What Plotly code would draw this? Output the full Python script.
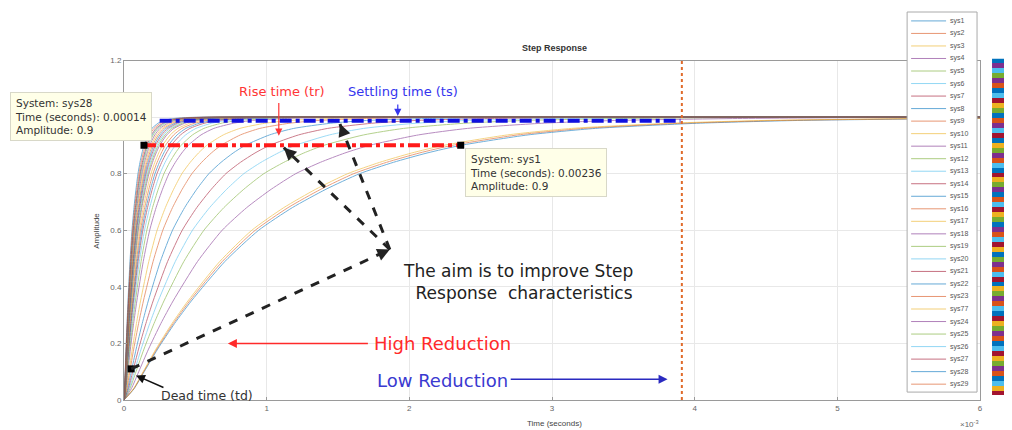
import plotly.graph_objects as go

# ---------------- data ----------------
sys_names = ["sys1", "sys2", "sys3", "sys4", "sys5", "sys6", "sys7", "sys8", "sys9", "sys10",
             "sys11", "sys12", "sys13", "sys14", "sys15", "sys16", "sys17", "sys18", "sys19", "sys20",
             "sys21", "sys22", "sys23", "sys77", "sys24", "sys25", "sys26", "sys27", "sys28", "sys29"]
# time (ms) at which each response reaches amplitude 0.9
t90_ms = [2.36, 2.30, 2.24, 1.72, 1.40, 1.20, 1.02, 0.85, 0.68, 0.58,
          0.45, 0.40, 0.36, 0.33, 0.31, 0.29, 0.27, 0.25, 0.24, 0.23,
          0.22, 0.21, 0.20, 0.19, 0.18, 0.17, 0.165, 0.16, 0.14, 0.15]
# normalised step-response shape read from sys1 (time / t90 -> amplitude)
shape_u = [0, 0.03, 0.06, 0.1, 0.15, 0.2, 0.3, 0.4, 0.5, 0.6, 0.7, 0.8, 0.9, 1.0,
           1.2, 1.4, 1.7, 2.0, 2.5, 3.0, 4.0, 6.0, 10.0, 20.0, 45.0]
shape_amp = [0, 0.04, 0.10, 0.18, 0.27, 0.35, 0.49, 0.60, 0.68, 0.745, 0.80, 0.84, 0.873, 0.90,
             0.937, 0.96, 0.978, 0.988, 0.995, 0.998, 1.0, 1.0, 1.0, 1.0, 1.0]

x_ticks = [0, 1, 2, 3, 4, 5, 6]
y_ticks = [0, 0.2, 0.4, 0.6, 0.8, 1.0, 1.2]

tip_fast = {"sys": "sys28", "t_s": 0.00014, "amp": 0.9}
tip_slow = {"sys": "sys1", "t_s": 0.00236, "amp": 0.9}
settle_amp = 0.987
settle_t_ms = [0.25, 3.9]
marker_line_ms = 3.91
dead_pt = [0.05, 0.11]

strip_idx = [0, 3, 5, 4, 3, 1, 0, 5, 6, 2, 4, 0, 1, 3, 5, 6, 0, 2, 4, 3, 1, 5, 0, 6,
             2, 4, 3, 0, 1, 5, 6, 2, 4, 0, 3, 1, 5, 6, 2, 0, 4, 3, 1, 5, 6, 0, 2, 4,
             3, 1, 5, 0, 6, 2, 4, 3, 1, 0, 5, 6, 2, 4, 3, 1, 0, 5, 2, 6]

mcolors = ["#0072BD", "#D95319", "#EDB120", "#7E2F8E", "#77AC30", "#4DBEEE", "#A2142F"]

# ---------------- geometry helpers (reference page pixels -> paper) ----------------
W, H = 1004, 422
ML, MR, MT, MB = 116, 2, 0, 30
PW, PH = W - ML - MR, H - MT - MB
OX, OY = 8, 8  # page offset of the figure
WIDE = "DejaVu Sans"


def px(x):
    return (x - OX - ML) / PW


def py(y):
    return (OY + H - MB - y) / PH


fig = go.Figure()

for i, (name, t90) in enumerate(zip(sys_names, t90_ms)):
    fig.add_trace(go.Scatter(
        x=[u * t90 for u in shape_u], y=shape_amp, mode="lines", name=name,
        line=dict(color=mcolors[i % 7], width=1, shape="spline", smoothing=0.6),
        opacity=0.55, showlegend=False, hoverinfo="skip"))

# rise-time line (red dash-dot) between the two datatips
fig.add_trace(go.Scatter(x=[tip_fast["t_s"] * 1000, tip_slow["t_s"] * 1000],
                         y=[tip_fast["amp"], tip_slow["amp"]], mode="lines",
                         line=dict(color="#FF1A1A", width=4, dash="dashdot"),
                         showlegend=False, hoverinfo="skip"))
# settling line (blue dash-dot)
fig.add_trace(go.Scatter(x=settle_t_ms, y=[settle_amp, settle_amp], mode="lines",
                         line=dict(color="#1010E0", width=4, dash="dashdot"),
                         showlegend=False, hoverinfo="skip"))
# vertical dotted marker
fig.add_trace(go.Scatter(x=[marker_line_ms, marker_line_ms], y=[0, 1.2], mode="lines",
                         line=dict(color="#E06A2A", width=2, dash="dot"),
                         showlegend=False, hoverinfo="skip"))
# datatip points
fig.add_trace(go.Scatter(x=[tip_fast["t_s"] * 1000, tip_slow["t_s"] * 1000, dead_pt[0]],
                         y=[tip_fast["amp"], tip_slow["amp"], dead_pt[1]], mode="markers",
                         marker=dict(color="black", size=7, symbol="square"),
                         showlegend=False, hoverinfo="skip"))

# colour strip on the right
cs = []
for k, c in enumerate(mcolors):
    cs.append([k / 7, c])
    cs.append([(k + 1) / 7, c])
fig.add_trace(go.Heatmap(z=[[v] for v in strip_idx], y=list(range(len(strip_idx))), x=[0],
                         colorscale=cs, zmin=-0.5, zmax=6.5, showscale=False,
                         xaxis="x2", yaxis="y2", hoverinfo="skip"))

grid = "#E8E8E8"
axis_col = "#9A9A9A"
tickfont = dict(family="Arial", size=8, color="#666")

fig.update_layout(
    width=W, height=H, margin=dict(l=ML, r=MR, t=MT, b=MB),
    paper_bgcolor="white", plot_bgcolor="white",
    font=dict(family="Arial"),
    xaxis=dict(domain=[0, px(981)], range=[0, 6], tickvals=x_ticks, ticks="inside", ticklen=3,
               tickcolor=axis_col, showgrid=True, gridcolor=grid, zeroline=False,
               showline=True, linecolor=axis_col, mirror=True, tickfont=tickfont),
    yaxis=dict(domain=[0, py(57)], range=[0, 1.2], tickvals=y_ticks, ticks="inside", ticklen=3,
               tickcolor=axis_col, showgrid=True, gridcolor=grid, zeroline=False,
               showline=True, linecolor=axis_col, mirror=True, tickfont=tickfont),
    xaxis2=dict(domain=[px(993), 1], anchor="y2", showticklabels=False, showgrid=False,
                zeroline=False, ticks=""),
    yaxis2=dict(domain=[py(395), py(55)], anchor="x2", autorange="reversed",
                showticklabels=False, showgrid=False, zeroline=False, ticks=""),
)

ann = []
shapes = []


def ptext(text, x, y, size, color, xanchor="center", family="Arial", **kw):
    d = dict(text=text, x=px(x), y=py(y), xref="paper", yref="paper", xanchor=xanchor,
             yanchor="middle", showarrow=False, font=dict(size=size, color=color, family=family))
    d.update(kw)
    ann.append(d)


def dtext(text, x, y, size, color, family=WIDE, **kw):
    d = dict(text=text, x=x, y=y, xref="x", yref="y", xanchor="center", yanchor="middle",
             showarrow=False, font=dict(size=size, color=color, family=family))
    d.update(kw)
    ann.append(d)


# title & axis labels
ptext("<b>Step Response</b>", 555, 44, 9, "#333")
ptext("Amplitude", 97, 229, 8, "#444", textangle=-90)
ptext("Time (seconds)", 555, 424, 8, "#444")
ptext("×10<sup>-3</sup>", 970, 424, 8, "#666")

# datatips
ptext("System: %s<br>Time (seconds): %g<br>Amplitude: %g" %
      (tip_fast["sys"], tip_fast["t_s"], tip_fast["amp"]), 10, 114, 10.5, "#333",
      xanchor="left", family=WIDE, align="left", bgcolor="#FFFFE8", bordercolor="#D8D8C8",
      borderwidth=1, borderpad=4)
ptext("System: %s<br>Time (seconds): %g<br>Amplitude: %g" %
      (tip_slow["sys"], tip_slow["t_s"], tip_slow["amp"]), 465, 170, 10.5, "#333",
      xanchor="left", family=WIDE, align="left", bgcolor="#FFFFE8", bordercolor="#D8D8C8",
      borderwidth=1, borderpad=4)

# text labels
dtext("Rise time (tr)", 1.106, 1.092, 13, "#FF3535")
dtext("Settling time (ts)", 1.954, 1.092, 13, "#3535EE")
dtext("The aim is to improve Step<br>  Response  characteristics", 2.76, 0.416, 17, "#222")
dtext("High Reduction", 2.234, 0.2, 18, "#FF2A2A")
dtext("Low Reduction", 2.234, 0.068, 18, "#3A3AD0")
dtext("Dead time (td)", 0.58, 0.017, 12.5, "#333")


def arrow(x0, y0, x1, y1, color, width=1.5, head=2, size=1.2):
    ann.append(dict(x=x1, y=y1, ax=x0, ay=y0, xref="x", yref="y", axref="x", ayref="y",
                    text="", showarrow=True, arrowhead=head, arrowsize=size,
                    arrowwidth=width, arrowcolor=color))


arrow(1.085, 1.055, 1.085, 0.934, "#FF3535", 1.2)
arrow(1.919, 1.05, 1.919, 1.004, "#3535EE", 1.2)
arrow(1.72, 0.2, 0.728, 0.2, "#FF2A2A", 1.5)
arrow(2.70, 0.073, 3.81, 0.073, "#2A2AC0", 1.5)
arrow(0.287, 0.042, 0.084, 0.087, "#111", 1.5)

P = (1.863, 0.532)
dash_ends = [(1.12, 0.892), (1.513, 0.976)]
for (ex, ey) in dash_ends:
    shapes.append(dict(type="line", xref="x", yref="y", x0=P[0], y0=P[1], x1=ex, y1=ey,
                       line=dict(color="#222", width=3, dash="dash")))
    arrow(ex + (P[0] - ex) * 0.08, ey + (P[1] - ey) * 0.08, ex, ey, "#222", 2.5, 2, 1)
shapes.append(dict(type="line", xref="x", yref="y", x0=dead_pt[0], y0=dead_pt[1], x1=P[0], y1=P[1],
                   line=dict(color="#222", width=3, dash="dash")))
arrow(P[0] - (P[0] - dead_pt[0]) * 0.05, P[1] - (P[1] - dead_pt[1]) * 0.05, P[0], P[1], "#222", 2.5, 2, 1)

# hand-drawn legend box
shapes.append(dict(type="rect", xref="paper", yref="paper", x0=px(908), x1=px(978),
                   y0=py(392), y1=py(8), fillcolor="white", line=dict(color="#AAAAAA", width=1),
                   layer="above"))
n = len(sys_names)
for i, name in enumerate(sys_names):
    yy = 17 + i * (384 - 17) / (n - 1)
    shapes.append(dict(type="line", xref="paper", yref="paper", x0=px(912), x1=px(947),
                       y0=py(yy), y1=py(yy), line=dict(color=mcolors[i % 7], width=1),
                       opacity=0.6, layer="above"))
    ptext(name, 949, yy, 7, "#555", xanchor="left")

fig.update_layout(annotations=ann, shapes=shapes)
fig.write_html("out.html")
